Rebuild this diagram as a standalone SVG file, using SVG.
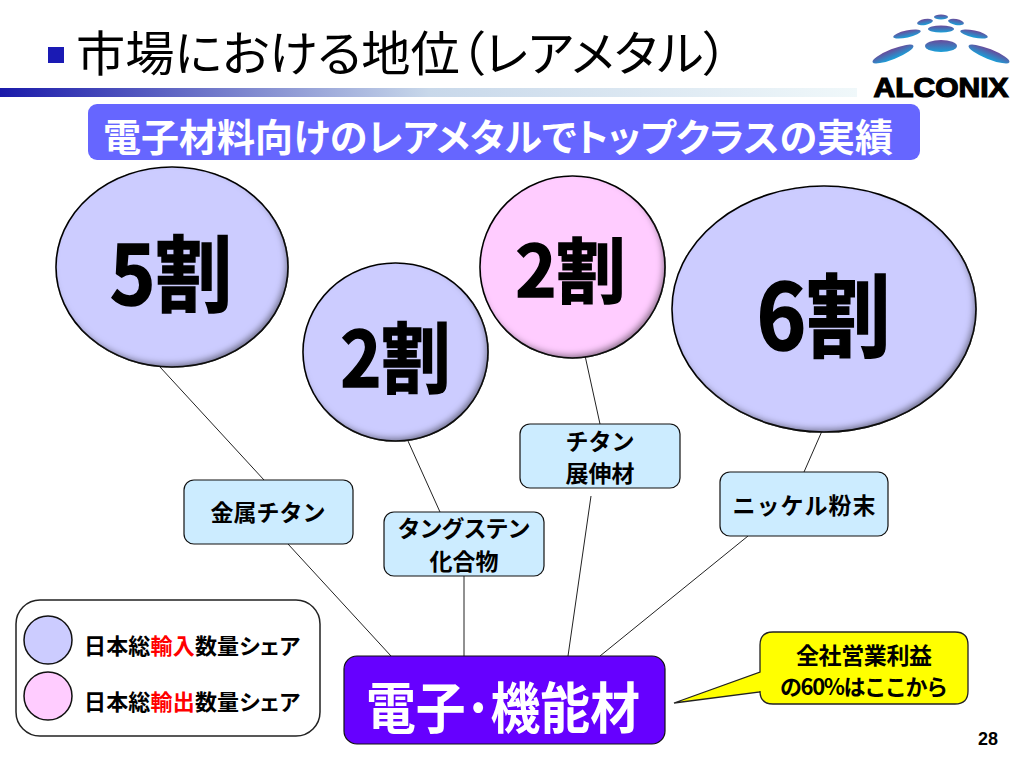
<svg xmlns="http://www.w3.org/2000/svg" width="1024" height="768" viewBox="0 0 1024 768">
<style>
text{font-family:"Noto Sans CJK JP","Liberation Sans",sans-serif;text-anchor:middle;fill:#000}
.b{font-weight:700}
.palt{font-feature-settings:"palt"}
.big{font-weight:700;stroke:#000;stroke-width:1.6}
.lab{font-size:23px;font-weight:700}
.box{fill:#ccecff;stroke:#111;stroke-width:1.2}
.blue{fill:#ccccff;stroke:#111;stroke-width:1.6}
.pink{fill:#ffccff;stroke:#111;stroke-width:1.6}
.line{stroke:#222;stroke-width:1;fill:none}
.leg{font-size:22px;font-weight:700;text-anchor:start;font-feature-settings:"palt"}
.red{fill:#ff0000}
</style>
<defs>
<linearGradient id="bar" x1="0" x2="1" y1="0" y2="0"><stop offset="0" stop-color="#1a1aaa"/><stop offset=".5" stop-color="#c8d8ea"/><stop offset="1" stop-color="#f0f8fa"/></linearGradient>
<linearGradient id="drop" x1="0" x2="0" y1="0" y2="1"><stop offset="0" stop-color="#6a4a9a"/><stop offset="1" stop-color="#1aa0d8"/></linearGradient>
<filter id="inner" x="-5%" y="-5%" width="110%" height="110%">
<feGaussianBlur in="SourceAlpha" stdDeviation="3" result="b"/>
<feOffset in="b" dx="-3" dy="-4" result="o"/>
<feComposite in="SourceAlpha" in2="o" operator="out" result="edge"/>
<feFlood flood-color="#111" flood-opacity=".75"/>
<feComposite in2="edge" operator="in" result="s"/>
<feMerge><feMergeNode in="SourceGraphic"/><feMergeNode in="s"/></feMerge>
</filter>
</defs>
<rect width="1024" height="768" fill="#fff"/>
<g id="title">
<rect x="48" y="47" width="16" height="16" fill="#1a1ab4"/>
<text class="palt" x="402" y="71" font-size="48" textLength="652" lengthAdjust="spacingAndGlyphs">市場における地位（レアメタル）</text>
<rect x="0" y="88" width="857" height="9" fill="url(#bar)"/>
</g>
<g id="logo">
<g fill="url(#drop)">
<ellipse cx="941" cy="17" rx="7" ry="2.5"/>
<ellipse cx="925" cy="22" rx="8" ry="3" transform="rotate(-10 925 22)"/>
<ellipse cx="956" cy="22" rx="8" ry="3" transform="rotate(10 956 22)"/>
<ellipse cx="941" cy="29" rx="13" ry="3.5"/>
<ellipse cx="907" cy="34" rx="14" ry="3.5" transform="rotate(-12 907 34)"/>
<ellipse cx="974" cy="34" rx="14" ry="3.5" transform="rotate(12 974 34)"/>
<ellipse cx="941" cy="46" rx="16" ry="6"/>
<ellipse cx="893" cy="54" rx="22" ry="5" transform="rotate(-22 893 54)"/>
<ellipse cx="989" cy="54" rx="22" ry="5" transform="rotate(22 989 54)"/>
</g>
<text x="941" y="96.500" font-size="27" font-weight="900" textLength="135" lengthAdjust="spacingAndGlyphs" style="font-family:'Liberation Sans',sans-serif" stroke="#000" stroke-width="1.2">ALCONIX</text>
</g>
<g id="banner">
<rect x="88" y="104" width="832" height="56" rx="9" fill="#6666ff"/>
<text class="b palt" x="498" y="151" font-size="38" textLength="790" lengthAdjust="spacingAndGlyphs" style="fill:#fff">電子材料向けのレアメタルでトップクラスの実績</text>
</g>
<g id="connectors">
<path class="line" d="M160 367L264 480M288 544L391 656M408 441L440 512M464 576V656M584 351L600 424M591 496L568 656M822 431L804 472M748 536L600 656"/>
</g>
<g id="circle-5">
<ellipse class="blue" filter="url(#inner)" cx="172" cy="267" rx="116" ry="100"/>
<text class="big" x="171" y="305" font-size="83" textLength="122" lengthAdjust="spacingAndGlyphs">5割</text>
</g>
<g id="circle-2a">
<ellipse class="blue" filter="url(#inner)" cx="395.500" cy="352" rx="92.500" ry="89"/>
<text class="big" x="395.500" y="387" font-size="77" textLength="110" lengthAdjust="spacingAndGlyphs">2割</text>
</g>
<g id="circle-2b">
<ellipse class="pink" filter="url(#inner)" cx="572.500" cy="267" rx="92.500" ry="91"/>
<text class="big" x="570.500" y="297" font-size="71" textLength="110" lengthAdjust="spacingAndGlyphs">2割</text>
</g>
<g id="circle-6">
<ellipse class="blue" filter="url(#inner)" cx="824" cy="309" rx="152" ry="123"/>
<text class="big" x="823.500" y="350" font-size="91" textLength="134" lengthAdjust="spacingAndGlyphs">6割</text>
</g>
<g id="box-kinzoku">
<rect class="box" x="184" y="480" width="169" height="64" rx="10"/>
<text class="lab" x="268" y="521">金属チタン</text>
</g>
<g id="box-tungsten">
<rect class="box" x="384" y="512" width="160" height="64" rx="10"/>
<text class="lab" x="464" y="537" textLength="133">タングステン</text>
<text class="lab" x="464" y="570">化合物</text>
</g>
<g id="box-titan">
<rect class="box" x="520" y="424" width="160" height="64" rx="10"/>
<text class="lab" x="600" y="450">チタン</text>
<text class="lab" x="600" y="482">展伸材</text>
</g>
<g id="box-nickel">
<rect class="box" x="720" y="472" width="168" height="64" rx="10"/>
<text class="lab" x="804" y="514" textLength="143">ニッケル粉末</text>
</g>
<g id="legend">
<rect x="16" y="600" width="304" height="136" rx="24" fill="#fff" stroke="#222" stroke-width="1.5"/>
<circle cx="48" cy="640" r="24" fill="#ccccff" stroke="#111" stroke-width="1.5"/>
<circle cx="48" cy="696" r="24" fill="#ffccff" stroke="#111" stroke-width="1.5"/>
<text class="leg" x="84" y="654" textLength="216">日本総<tspan class="red">輸入</tspan>数量シェア</text>
<text class="leg" x="84" y="710" textLength="216">日本総<tspan class="red">輸出</tspan>数量シェア</text>
</g>
<g id="box-main">
<rect x="344" y="656" width="321" height="88" rx="13" fill="#6600ff" stroke="#111" stroke-width="1.2"/>
<text class="b" x="503" y="728" font-size="55" textLength="274" lengthAdjust="spacingAndGlyphs" style="fill:#fff">電子･機能材</text>
</g>
<g id="callout">
<path d="M773 632H955Q968 632 968 645V691Q968 704 955 704H773Q760 704 760 691V692L674 703L760 672V645Q760 632 773 632Z" fill="#ffff00" stroke="#222" stroke-width="1.3"/>
<text class="b" x="864" y="664" font-size="23" textLength="136">全社営業利益</text>
<text class="b" x="864" y="695" font-size="22" textLength="168">の60%はここから</text>
</g>
<text class="b" x="988" y="745" font-size="18" textLength="20" lengthAdjust="spacingAndGlyphs" style="font-family:'Liberation Sans',sans-serif">28</text>
</svg>
